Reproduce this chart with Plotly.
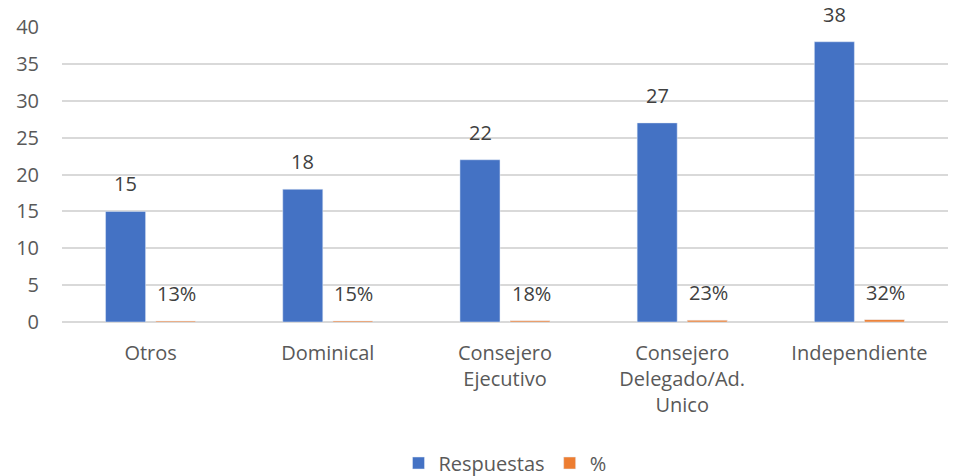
import plotly.graph_objects as go

categories = ["Otros", "Dominical", "Consejero<br>Ejecutivo", "Consejero<br>Delegado/Ad.<br>Unico", "Independiente"]
respuestas = [15, 18, 22, 27, 38]
porcentaje = [0.13, 0.15, 0.18, 0.23, 0.32]
y_ticks = [0, 5, 10, 15, 20, 25, 30, 35, 40]

FONT = "Open Sans"
fig = go.Figure()
fig.add_trace(go.Bar(name="Respuestas", x=categories, y=respuestas, marker_color="#4472C4",
                     textposition="none"))
fig.add_trace(go.Bar(name="%", x=categories, y=porcentaje, marker_color="#ED7D31",
                     textposition="none"))

for i, c in enumerate(categories):
    fig.add_annotation(x=c, y=respuestas[i], text=str(respuestas[i]), showarrow=False,
                       xshift=-25, yshift=12, yanchor="bottom",
                       font=dict(family=FONT, size=20, color="#404040"))
    fig.add_annotation(x=c, y=porcentaje[i], text=f"{round(porcentaje[i]*100)}%", showarrow=False,
                       xshift=26, yshift=12, yanchor="bottom",
                       font=dict(family=FONT, size=20, color="#404040"))

fig.update_layout(
    width=956, height=476,
    margin=dict(l=62, r=8, t=27, b=154, autoexpand=False),
    paper_bgcolor="white", plot_bgcolor="white",
    barmode="group", bargap=0.435, bargroupgap=0.2,
    font=dict(family=FONT, size=20, color="#595959"),
    showlegend=True,
    legend=dict(orientation="h", x=0.5, xanchor="center", y=-0.478, yanchor="middle",
                font=dict(family=FONT, size=20, color="#595959"), itemwidth=30),
    xaxis=dict(showgrid=False, ticks="", tickfont=dict(size=20, color="#595959"), showline=False,
               ticklabelstandoff=17),
    yaxis=dict(range=[0, 40], tickvals=y_ticks, showgrid=True, gridcolor="#D9D9D9", gridwidth=1.5,
               zeroline=True, zerolinecolor="#D9D9D9", zerolinewidth=1.5,
               tickfont=dict(size=20, color="#595959"), ticks="", ticklabelstandoff=22),
)
fig.write_html("out.html", config={"displayModeBar": False},
               post_script="document.body.style.margin='0';")
